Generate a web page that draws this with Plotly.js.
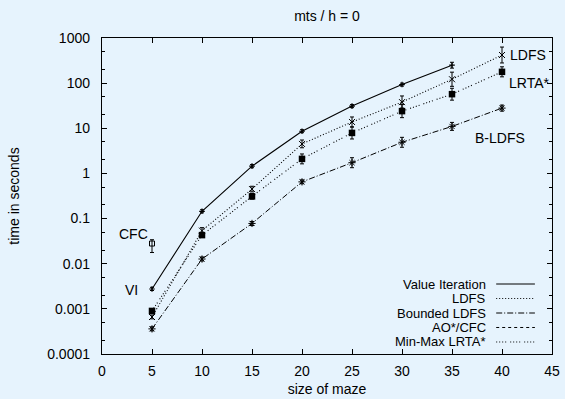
<!DOCTYPE html>
<html>
<head>
<meta charset="utf-8">
<script src="https://cdn.plot.ly/plotly-3.0.1.min.js"></script>
<style>
  html, body { margin: 0; padding: 0; background: #e6f3fd; }
  #chart { width: 565px; height: 399px; }
</style>
</head>
<body>
<div id="chart"></div>
<script>
// ---- data ----
var mazeSizes = [5, 10, 15, 20, 25, 30, 35, 40];
var viSizes = [5, 10, 15, 20, 25, 30, 35];

var viTime   = [0.00275, 0.145, 1.45, 8.6, 31, 93, 250];
var viHi     = [0.003, 0.157, 1.57, 9.3, 33.5, 100, 290];
var viLo     = [0.00255, 0.134, 1.34, 8.0, 28.7, 86, 215];

var ldfsTime = [0.00066, 0.054, 0.45, 4.5, 13.8, 38, 122, 420];
var ldfsHi   = [0.00073, 0.063, 0.52, 5.5, 17.8, 52, 175, 630];
var ldfsLo   = [0.0006, 0.046, 0.39, 3.7, 10.7, 28, 85, 280];

var bldfsTime = [0.00036, 0.0127, 0.078, 0.65, 1.73, 4.9, 11, 28];
var bldfsHi   = [0.0004, 0.0141, 0.086, 0.72, 2.23, 6.3, 13.5, 32.6];
var bldfsLo   = [0.000325, 0.0115, 0.07, 0.59, 1.34, 3.8, 9, 24];

var cfcSizes = [5];
var cfcTime  = [0.028];
var cfcHi    = [0.034];
var cfcLo    = [0.0177];

var lrtaTime = [0.0009, 0.043, 0.31, 2.1, 7.9, 24, 57, 178];
var lrtaHi   = [0.001, 0.048, 0.36, 2.7, 10.7, 33.5, 77, 230];
var lrtaLo   = [0.00081, 0.039, 0.27, 1.63, 5.8, 17.2, 42, 138];

var seriesNames = ["Value Iteration", "LDFS", "Bounded LDFS", "AO*/CFC", "Min-Max LRTA*"];
var xTickVals = [0, 5, 10, 15, 20, 25, 30, 35, 40, 45];
var yTickVals = [0.0001, 0.001, 0.01, 0.1, 1, 10, 100, 1000];
var yTickText = ["0.0001", "0.001", "0.01", "0.1", "1", "10", "100", "1000"];

// ---- helpers ----
function errUp(v, hi) { return hi.map(function (h, i) { return h - v[i]; }); }
function errDn(v, lo) { return lo.map(function (l, i) { return v[i] - l; }); }
function eb(v, hi, lo) {
  return { type: 'data', symmetric: false, array: errUp(v, hi), arrayminus: errDn(v, lo),
           color: '#000', thickness: 1, width: 2 };
}

var dashes = ['solid', '1px,2px', '6px,2px,1px,2px', '3px,3px', '1px,2px,1px,2px,1px,2px,1px,4px'];

var traces = [
  { x: viSizes, y: viTime, name: seriesNames[0], mode: 'lines+markers',
    line: { color: '#000', width: 1.1, dash: dashes[0] },
    marker: { symbol: 'cross-thin', size: 4, color: '#000', line: { color: '#000', width: 1.2 } },
    error_y: eb(viTime, viHi, viLo) },
  { x: mazeSizes, y: ldfsTime, name: seriesNames[1], mode: 'lines+markers',
    line: { color: '#000', width: 1.1, dash: dashes[1] },
    marker: { symbol: 'x-thin', size: 6, color: '#000', line: { color: '#000', width: 1 } },
    error_y: eb(ldfsTime, ldfsHi, ldfsLo) },
  { x: mazeSizes, y: bldfsTime, name: seriesNames[2], mode: 'lines+markers',
    line: { color: '#000', width: 1, dash: dashes[2] },
    marker: { symbol: 'asterisk', size: 6, color: '#000', line: { color: '#000', width: 1 } },
    error_y: eb(bldfsTime, bldfsHi, bldfsLo) },
  { x: cfcSizes, y: cfcTime, name: seriesNames[3], mode: 'lines+markers',
    line: { color: '#000', width: 1, dash: dashes[3] },
    marker: { symbol: 'square-open', size: 5, color: '#000', line: { color: '#000', width: 1 } },
    error_y: eb(cfcTime, cfcHi, cfcLo) },
  { x: mazeSizes, y: lrtaTime, name: seriesNames[4], mode: 'lines+markers',
    line: { color: '#000', width: 1.1, dash: dashes[4] },
    marker: { symbol: 'square', size: 6.5, color: '#000' },
    error_y: eb(lrtaTime, lrtaHi, lrtaLo) }
];

var fontFam = '"Liberation Sans", Arial, Helvetica, sans-serif';

// manual legend (text right-aligned, sample to the right, as in the reference)
var legendRows = [0.2215, 0.1756, 0.1297, 0.0839, 0.038];
var annotations = [];
var shapes = [];
seriesNames.forEach(function (n, i) {
  annotations.push({ xref: 'paper', yref: 'paper', x: 0.855, y: legendRows[i], text: n,
    xanchor: 'right', yanchor: 'middle', showarrow: false, borderpad: 0,
    font: { size: 13, color: '#000', family: fontFam } });
  shapes.push({ type: 'line', xref: 'paper', yref: 'paper', x0: 0.876, x1: 0.962,
    y0: legendRows[i], y1: legendRows[i], line: { color: '#000', width: 1, dash: dashes[i] } });
});

// in-plot labels
var labels = [
  { text: 'LDFS', x: 40.6, y: 420, xanchor: 'left' },
  { text: 'LRTA*', x: 40.5, y: 100, xanchor: 'left' },
  { text: 'B-LDFS', x: 37.1, y: 10, xanchor: 'left', yanchor: 'top' },
  { text: 'CFC', x: 4.8, y: 0.045, xanchor: 'right' },
  { text: 'VI', x: 3.8, y: 0.0026, xanchor: 'right' }
];
labels.forEach(function (l) {
  annotations.push({ xref: 'x', yref: 'y', x: l.x, y: Math.log10(l.y), text: l.text,
    xanchor: l.xanchor, yanchor: l.yanchor || 'middle', showarrow: false,
    font: { size: 14, color: '#000', family: fontFam } });
});

var layout = {
  width: 565, height: 399,
  paper_bgcolor: '#e6f3fd', plot_bgcolor: '#e6f3fd',
  margin: { l: 102, r: 13, t: 38, b: 45 },
  font: { family: fontFam, size: 14, color: '#000' },
  showlegend: false,
  title: { text: 'mts / h = 0', x: 0.5, xref: 'paper', y: 1 - 16 / 399, yref: 'container',
           yanchor: 'middle', font: { size: 14, color: '#000', family: fontFam } },
  xaxis: {
    range: [0, 45], tickvals: xTickVals, ticks: 'inside', ticklen: 5, tickwidth: 1, tickcolor: '#000',
    showline: true, linecolor: '#000', linewidth: 1.2, mirror: 'ticks', showgrid: false, zeroline: false,
    tickfont: { size: 14 }, ticklabelstandoff: 4,
    title: { text: 'size of maze', standoff: 6, font: { size: 14 } }
  },
  yaxis: {
    type: 'log', range: [-4, 3], tickvals: yTickVals, ticktext: yTickText,
    ticks: 'inside', ticklen: 5, tickwidth: 1, tickcolor: '#000',
    minor: { ticks: 'inside', ticklen: 3, dtick: 'D2', tickcolor: '#000', showgrid: false },
    showline: true, linecolor: '#000', linewidth: 1.2, mirror: 'ticks', showgrid: false, zeroline: false,
    tickfont: { size: 14 }, ticklabelstandoff: 8,
    title: { text: 'time in seconds', standoff: 24, font: { size: 14 } }
  },
  annotations: annotations,
  shapes: shapes
};

Plotly.newPlot('chart', traces, layout, { staticPlot: true, displayModeBar: false });
</script>
</body>
</html>
